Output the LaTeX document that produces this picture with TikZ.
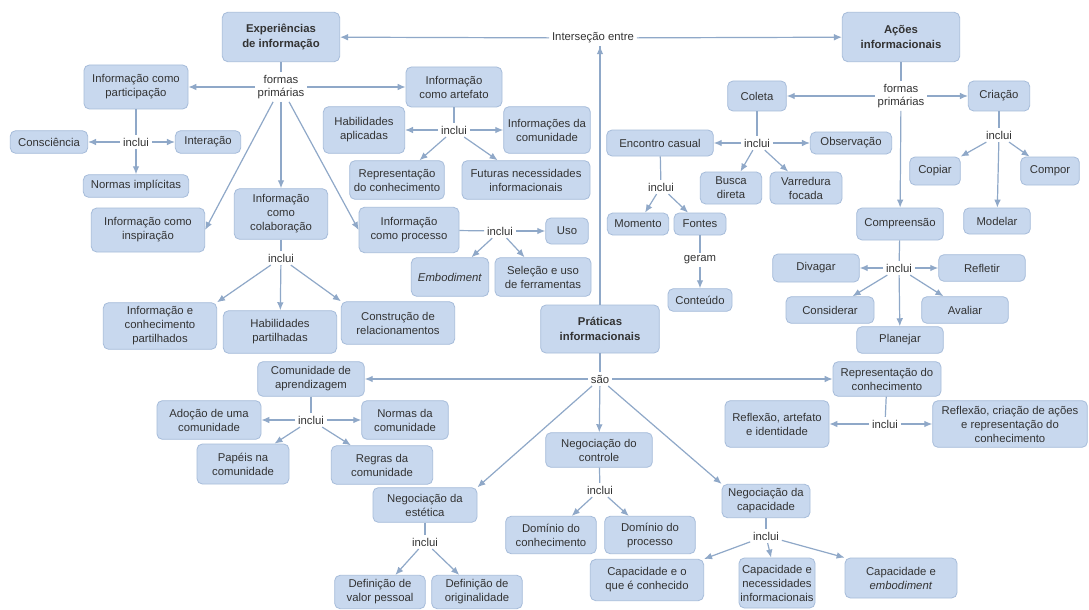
\documentclass[tikz,border=0pt]{standalone}
\usepackage{fontspec}
\setmainfont{Liberation Sans}
\usetikzlibrary{arrows.meta}

\definecolor{fundo}{HTML}{C8D8EE}
\definecolor{borda}{HTML}{A6BCDA}
\definecolor{linha}{HTML}{8FA8C8}
\definecolor{texto}{HTML}{333333}

\tikzset{
  caixa/.style={draw=borda, fill=fundo, rounded corners=4pt, align=center,
    text=texto, inner sep=1pt, line width=0.6pt, font=\fontsize{8.5}{10.5}\selectfont},
  principal/.style={caixa, font=\fontsize{8.5}{11}\selectfont\bfseries},
  rotulo/.style={text=texto, align=center, inner sep=2pt, fill=white,
    font=\fontsize{8.5}{10}\selectfont},
  liga/.style={draw=linha, line width=0.9pt},
  seta/.style={draw=linha, line width=0.9pt, -{Latex[length=6pt,width=5pt]}},
  tam/.style 2 args={minimum width=#1, minimum height=#2}
}

\begin{document}
\begin{tikzpicture}[x=0.75pt,y=-0.75pt]
 \useasboundingbox[fill=white] (0,0) rectangle (1089,610);

 % conceitos centrais
 \node[principal, tam={88pt}{37pt}] (exp) at (281,37) {Experiências\\de informação};
 \node[principal, tam={88pt}{37pt}] (acoes) at (901,37) {Ações\\informacionais};
 \node[principal, tam={89pt}{36pt}] (prat) at (600,329) {Práticas\\informacionais};
 \node[rotulo] (inters) at (593,38) {Interseção entre};

 \draw[liga] (prat.north) -- (prat.north |- inters.south);
 \draw[-{Latex[length=6pt,width=5pt]}, draw=linha, line width=0.9pt] (prat.north |- inters.south) ++(0,2) -- (prat.north |- inters.south);
 \draw[seta] (inters) -- (exp);
 \draw[seta] (inters) -- (acoes);

 % experiencias de informacao
 \node[rotulo] (fp1) at (281,87) {formas\\primárias};
 \node[caixa, tam={78pt}{33pt}] (part) at (136,87) {Informação como\\participação};
 \node[caixa, tam={72pt}{30pt}] (artef) at (454,87) {Informação\\como artefato};
 \node[caixa, tam={85pt}{33pt}] (insp) at (148,230) {Informação como\\inspiração};
 \node[caixa, tam={70pt}{38pt}] (colab) at (281,214) {Informação\\como\\colaboração};
 \node[caixa, tam={75pt}{34pt}] (proc) at (409,230) {Informação\\como processo};
 \draw[liga] (exp) -- (fp1);
 \draw[seta] (fp1) -- (part);
 \draw[seta] (fp1) -- (artef);
 \draw[seta] (fp1) -- (insp.east);
 \draw[seta] (fp1) -- (colab);
 \draw[seta] (fp1) -- (proc.west);

 \node[rotulo] (inc1) at (136,142) {inclui};
 \node[caixa, tam={58pt}{17pt}] (consc) at (49,142) {Consciência};
 \node[caixa, tam={49pt}{17pt}] (inter) at (208,142) {Interação};
 \node[caixa, tam={79pt}{17pt}] (normimp) at (136,186) {Normas implícitas};
 \draw[liga] (part) -- (inc1);
 \draw[seta] (inc1) -- (consc);
 \draw[seta] (inc1) -- (inter);
 \draw[seta] (inc1) -- (normimp);

 \node[rotulo] (inc2) at (454,130) {inclui};
 \node[caixa, tam={61pt}{35pt}] (habap) at (364,130) {Habilidades\\aplicadas};
 \node[caixa, tam={65pt}{35pt}] (infcom) at (547,130) {Informações da\\comunidade};
 \node[caixa, tam={71pt}{29pt}] (repc) at (397,180) {Representação\\do conhecimento};
 \node[caixa, tam={96pt}{29pt}] (futur) at (526,180) {Futuras necessidades\\informacionais};
 \draw[liga] (artef) -- (inc2);
 \draw[seta] (inc2) -- (habap);
 \draw[seta] (inc2) -- (infcom);
 \draw[seta] (inc2) -- (repc);
 \draw[seta] (inc2) -- (futur);

 \node[rotulo] (inc3) at (281,258) {inclui};
 \node[caixa, tam={85pt}{35pt}] (icp) at (160,326) {Informação e\\conhecimento\\partilhados};
 \node[caixa, tam={85pt}{32pt}] (habp) at (280,332) {Habilidades\\partilhadas};
 \node[caixa, tam={85pt}{32pt}] (constr) at (398,323) {Construção de\\relacionamentos};
 \draw[liga] (colab) -- (inc3);
 \draw[seta] (inc3) -- (icp.north east);
 \draw[seta] (inc3) -- (habp);
 \draw[seta] (inc3) -- (constr.north west);

 \node[rotulo] (inc4) at (500,231) {inclui};
 \node[caixa, tam={32pt}{19.5pt}] (uso) at (567,231) {Uso};
 \node[caixa, tam={58pt}{29pt}] (embod) at (450,277) {\textit{Embodiment}};
 \node[caixa, tam={72pt}{29pt}] (selec) at (543,277) {Seleção e uso\\de ferramentas};
 \draw[liga] (proc) -- (inc4);
 \draw[seta] (inc4) -- (uso);
 \draw[seta] (inc4) -- (embod);
 \draw[seta] (inc4) -- (selec);

 % acoes informacionais
 \node[rotulo] (fp2) at (901,96) {formas\\primárias};
 \node[caixa, tam={44pt}{22.5pt}] (coleta) at (757,96) {Coleta};
 \node[caixa, tam={46pt}{22.5pt}] (criacao) at (999,96) {Criação};
 \node[caixa, tam={65pt}{24pt}] (compr) at (900,224) {Compreensão};
 \draw[liga] (acoes) -- (fp2);
 \draw[seta] (fp2) -- (coleta);
 \draw[seta] (fp2) -- (criacao);
 \draw[seta] (fp2) -- (compr);

 \node[rotulo] (inc5) at (757,143) {inclui};
 \node[caixa, tam={80pt}{19.5pt}] (encon) at (660,143) {Encontro casual};
 \node[caixa, tam={61pt}{16.5pt}] (observ) at (851,143) {Observação};
 \node[caixa, tam={46pt}{24pt}] (busca) at (731,188) {Busca\\direta};
 \node[caixa, tam={54pt}{24pt}] (varred) at (806,188) {Varredura\\focada};
 \draw[liga] (coleta) -- (inc5);
 \draw[seta] (inc5) -- (encon);
 \draw[seta] (inc5) -- (observ);
 \draw[seta] (inc5) -- (busca);
 \draw[seta] (inc5) -- (varred);

 \node[rotulo] (inc6) at (661,187) {inclui};
 \node[caixa, tam={46pt}{16.5pt}] (moment) at (638,224) {Momento};
 \node[caixa, tam={39pt}{16.5pt}] (fontes) at (700,224) {Fontes};
 \draw[liga] (encon) -- (inc6);
 \draw[seta] (inc6) -- (moment);
 \draw[seta] (inc6) -- (fontes);

 \node[rotulo] (geram) at (700,260) {geram};
 \node[caixa, tam={48pt}{17pt}] (conteu) at (700,300) {Conteúdo};
 \draw[liga] (fontes) -- (geram);
 \draw[seta] (geram) -- (conteu);

 \node[rotulo] (inc7) at (999,135) {inclui};
 \node[caixa, tam={38pt}{21pt}] (copiar) at (935,171) {Copiar};
 \node[caixa, tam={44pt}{21pt}] (compor) at (1050,171) {Compor};
 \node[caixa, tam={50pt}{19.5pt}] (modelar) at (997,221) {Modelar};
 \draw[liga] (criacao) -- (inc7);
 \draw[seta] (inc7) -- (copiar);
 \draw[seta] (inc7) -- (compor);
 \draw[seta] (inc7) -- (modelar);

 \node[rotulo] (inc8) at (899,268) {inclui};
 \node[caixa, tam={65pt}{21pt}] (divag) at (816,268) {Divagar};
 \node[caixa, tam={65pt}{20pt}] (reflet) at (982,268) {Refletir};
 \node[caixa, tam={66pt}{20pt}] (consid) at (830,310) {Considerar};
 \node[caixa, tam={65pt}{20pt}] (avaliar) at (965,310) {Avaliar};
 \node[caixa, tam={65pt}{20pt}] (planej) at (900,340) {Planejar};
 \draw[liga] (compr) -- (inc8);
 \draw[seta] (inc8) -- (divag);
 \draw[seta] (inc8) -- (reflet);
 \draw[seta] (inc8) -- (consid);
 \draw[seta] (inc8) -- (avaliar);
 \draw[seta] (inc8) -- (planej);

 % praticas informacionais
 \node[rotulo] (sao) at (600,379) {são};
 \node[caixa, tam={80pt}{26pt}] (comap) at (311,379) {Comunidade de\\aprendizagem};
 \node[caixa, tam={81pt}{26pt}] (repcon) at (887,379) {Representação do\\conhecimento};
 \node[caixa, tam={78pt}{26pt}] (estet) at (425,505) {Negociação da\\estética};
 \node[caixa, tam={80pt}{26pt}] (contr) at (599,450) {Negociação do\\controle};
 \node[caixa, tam={66pt}{25pt}] (capac) at (766,501) {Negociação da\\capacidade};
 \draw[liga] (prat) -- (sao);
 \draw[seta] (sao) -- (comap);
 \draw[seta] (sao) -- (repcon);
 \draw[seta] (sao) -- (estet.north east);
 \draw[seta] (sao) -- (contr);
 \draw[seta] (sao) -- (capac.north west);

 \node[rotulo] (inc9) at (311,420) {inclui};
 \node[caixa, tam={78pt}{29pt}] (adoc) at (209,420) {Adoção de uma\\comunidade};
 \node[caixa, tam={65pt}{29pt}] (normc) at (405,420) {Normas da\\comunidade};
 \node[caixa, tam={69pt}{30pt}] (papeis) at (243,464) {Papéis na\\comunidade};
 \node[caixa, tam={76pt}{29pt}] (regras) at (382,465) {Regras da\\comunidade};
 \draw[liga] (comap) -- (inc9);
 \draw[seta] (inc9) -- (adoc);
 \draw[seta] (inc9) -- (normc);
 \draw[seta] (inc9) -- (papeis);
 \draw[seta] (inc9) -- (regras);

 \node[rotulo] (inc10) at (425,542) {inclui};
 \node[caixa, tam={68pt}{25pt}] (defval) at (380,592) {Definição de\\valor pessoal};
 \node[caixa, tam={68pt}{25pt}] (deforig) at (477,592) {Definição de\\originalidade};
 \draw[liga] (estet) -- (inc10);
 \draw[seta] (inc10) -- (defval);
 \draw[seta] (inc10) -- (deforig);

 \node[rotulo] (inc11) at (600,490) {inclui};
 \node[caixa, tam={68pt}{28pt}] (domcon) at (551,535) {Domínio do\\conhecimento};
 \node[caixa, tam={68pt}{28pt}] (domproc) at (650,535) {Domínio do\\processo};
 \draw[liga] (contr) -- (inc11);
 \draw[seta] (inc11) -- (domcon);
 \draw[seta] (inc11) -- (domproc);

 \node[rotulo] (inc12) at (766,536) {inclui};
 \node[caixa, tam={85pt}{31pt}] (capcon) at (647,580) {Capacidade e o\\que é conhecido};
 \node[caixa, tam={57pt}{37.5pt}] (capnec) at (777,583) {Capacidade e\\necessidades\\informacionais};
 \node[caixa, tam={84pt}{30pt}] (capemb) at (901,578) {Capacidade e\\\textit{embodiment}};
 \draw[liga] (capac) -- (inc12);
 \draw[seta] (inc12) -- (capcon.north east);
 \draw[seta] (inc12) -- (capnec);
 \draw[seta] (inc12) -- (capemb.north west);

 \node[rotulo] (inc13) at (885,424) {inclui};
 \node[caixa, tam={78pt}{35pt}] (refart) at (777,424) {Reflexão, artefato\\e identidade};
 \node[caixa, tam={116pt}{35pt}] (refcri) at (1010,424) {Reflexão, criação de ações\\e representação do\\conhecimento};
 \draw[liga] (repcon) -- (inc13);
 \draw[seta] (inc13) -- (refart);
 \draw[seta] (inc13) -- (refcri);
\end{tikzpicture}
\end{document}
